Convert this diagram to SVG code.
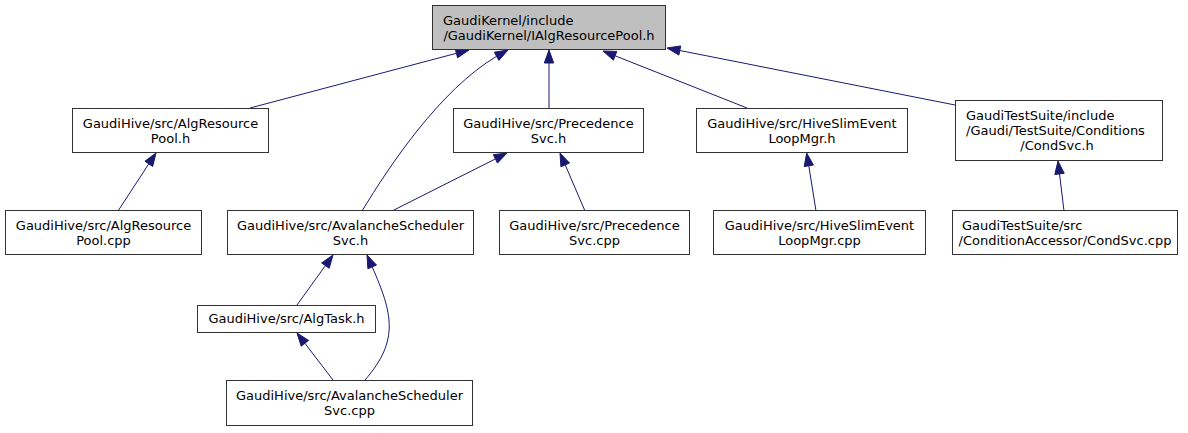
<svg xmlns="http://www.w3.org/2000/svg" width="1188" height="433" viewBox="0 0 1188 433">
<style>
.n rect{fill:#ffffff;stroke:#333333;stroke-width:1}
.n.root rect{fill:#bfbfbf}
.n text{font-family:"DejaVu Sans","Liberation Sans",sans-serif;font-size:13px;fill:#000000}
.m{text-anchor:middle}
.e path{fill:none;stroke:#191970;stroke-width:1}
.e polygon{fill:#191970;stroke:#191970;stroke-width:1}
</style>
<rect width="1188" height="433" fill="#ffffff"/>
<g id="edges" class="e">
<path d="M250,108 L456.4,53.3"/><polygon points="469,50 457.6,57.8 455.2,48.8"/>
<path d="M362,211 C390,165 440,90 496.6,56.3"/><polygon points="508,50 498.9,60.4 494.3,52.2"/>
<path d="M549,108 L549,63"/><polygon points="549,50 553.7,63 544.3,63"/>
<path d="M747,108 L615.1,55.8"/><polygon points="603,51 616.8,51.4 613.4,60.2"/>
<path d="M955,105 L679.8,50.5"/><polygon points="667,48 680.7,45.9 678.9,55.1"/>
<path d="M118,211 L148.8,163.8"/><polygon points="156,153 152.7,166.4 144.9,161.2"/>
<path d="M392,211 L495.4,158.9"/><polygon points="507,153 497.5,163.1 493.3,154.7"/>
<path d="M585,211 L565.2,164.9"/><polygon points="560,153 569.5,163 560.9,166.8"/>
<path d="M816,211 L808.8,165.8"/><polygon points="806.7,153 813.4,165 804.2,166.6"/>
<path d="M1064,211 L1059.5,173.9"/><polygon points="1058,161 1064.2,173.3 1054.8,174.5"/>
<path d="M297,305 L325.4,265.6"/><polygon points="333,255 329.2,268.3 321.6,262.9"/>
<path d="M333,380 L304.9,343.3"/><polygon points="297,333 308.6,340.4 301.2,346.2"/>
<path d="M365,380 C400,340 392.2,312.8 372.2,266.9"/><polygon points="367,255 376.5,265 367.9,268.8"/>
</g>
<g id="node_root" class="n root">
<rect x="432.5" y="5.5" width="233" height="44"/>
<text x="443" y="25">GaudiKernel/include</text>
<text x="549" y="40" class="m">/GaudiKernel/IAlgResourcePool.h</text>
</g>
<g id="node_algresourcepool_h" class="n">
<rect x="72.5" y="108.5" width="196" height="44"/>
<text x="170.5" y="128" class="m">GaudiHive/src/AlgResource</text>
<text x="170.5" y="143" class="m">Pool.h</text>
</g>
<g id="node_precedencesvc_h" class="n">
<rect x="453.5" y="108.5" width="190" height="44"/>
<text x="548.5" y="128" class="m">GaudiHive/src/Precedence</text>
<text x="548.5" y="143" class="m">Svc.h</text>
</g>
<g id="node_hiveslim_h" class="n">
<rect x="696.5" y="108.5" width="211" height="44"/>
<text x="802" y="128" class="m">GaudiHive/src/HiveSlimEvent</text>
<text x="802" y="143" class="m">LoopMgr.h</text>
</g>
<g id="node_condsvc_h" class="n">
<rect x="955.5" y="100.5" width="207" height="60"/>
<text x="966" y="120">GaudiTestSuite/include</text>
<text x="966" y="135">/Gaudi/TestSuite/Conditions</text>
<text x="1057" y="150" class="m">/CondSvc.h</text>
</g>
<g id="node_algresourcepool_cpp" class="n">
<rect x="5.5" y="210.5" width="196" height="44"/>
<text x="103.5" y="230" class="m">GaudiHive/src/AlgResource</text>
<text x="103.5" y="245" class="m">Pool.cpp</text>
</g>
<g id="node_avalanche_h" class="n">
<rect x="227.5" y="210.5" width="246" height="44"/>
<text x="350.5" y="230" class="m">GaudiHive/src/AvalancheScheduler</text>
<text x="350.5" y="245" class="m">Svc.h</text>
</g>
<g id="node_precedencesvc_cpp" class="n">
<rect x="499.5" y="210.5" width="190" height="44"/>
<text x="594.5" y="230" class="m">GaudiHive/src/Precedence</text>
<text x="594.5" y="245" class="m">Svc.cpp</text>
</g>
<g id="node_hiveslim_cpp" class="n">
<rect x="713.5" y="210.5" width="212" height="44"/>
<text x="819.5" y="230" class="m">GaudiHive/src/HiveSlimEvent</text>
<text x="819.5" y="245" class="m">LoopMgr.cpp</text>
</g>
<g id="node_condsvc_cpp" class="n">
<rect x="952.5" y="210.5" width="225" height="44"/>
<text x="962" y="230">GaudiTestSuite/src</text>
<text x="1065" y="245" class="m">/ConditionAccessor/CondSvc.cpp</text>
</g>
<g id="node_algtask_h" class="n">
<rect x="197.5" y="305.5" width="178" height="27"/>
<text x="286.5" y="323" class="m">GaudiHive/src/AlgTask.h</text>
</g>
<g id="node_avalanche_cpp" class="n">
<rect x="226.5" y="380.5" width="246" height="45"/>
<text x="349.5" y="400" class="m">GaudiHive/src/AvalancheScheduler</text>
<text x="349.5" y="415" class="m">Svc.cpp</text>
</g>
</svg>
